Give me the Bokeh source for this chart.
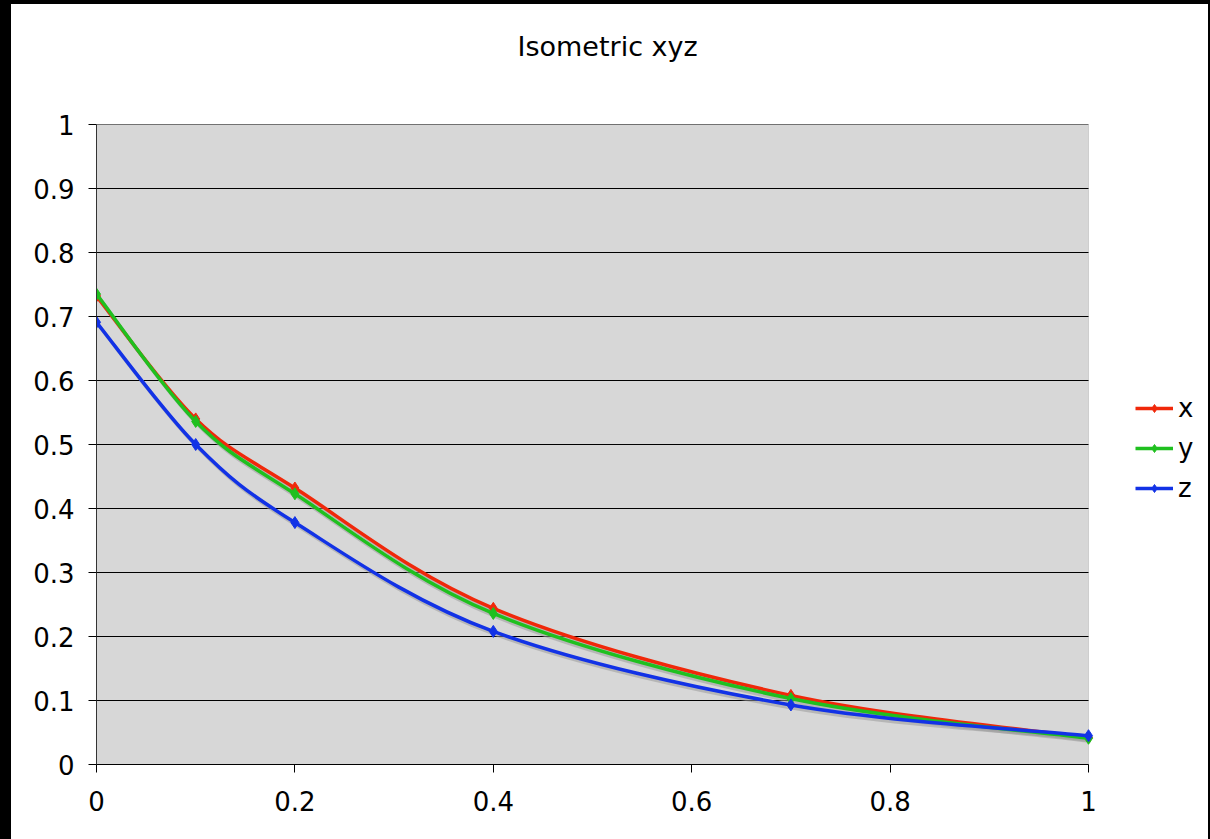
import numpy as np
from bokeh.plotting import figure
from bokeh.layouts import column
from bokeh.models import (FixedTicker, CustomJSTickFormatter, Legend, LegendItem,
                          Range1d, Title, ColumnDataSource, BoxAnnotation)
from bokeh.embed import file_html
from bokeh.resources import INLINE

# ---- data ----
t = [0, 0.1, 0.2, 0.4, 0.7, 1.0]
x_vals = [0.732, 0.540, 0.432, 0.244, 0.108, 0.042]
y_vals = [0.735, 0.536, 0.423, 0.236, 0.103, 0.041]
z_vals = [0.691, 0.500, 0.378, 0.208, 0.093, 0.045]
series_names = ["x", "y", "z"]
colors = ["#f0280a", "#1fc01f", "#1232e6"]
y_ticks = [0, 0.1, 0.2, 0.3, 0.4, 0.5, 0.6, 0.7, 0.8, 0.9, 1.0]
x_ticks = [0, 0.2, 0.4, 0.6, 0.8, 1.0]

FONT = "DejaVu Sans"

# plot area spans x 0..1 over 992 px; the frame continues to the right to hold the legend
PLOT_W = 992
FRAME_W = 1112
x_lo, x_hi = 0, 1
p = figure(width=1197, height=835, output_backend="svg", toolbar_location=None,
           x_range=Range1d(x_lo, x_hi * FRAME_W / PLOT_W), y_range=Range1d(0, 1),
           min_border_left=85, min_border_right=0, min_border_top=120, min_border_bottom=75,
           background_fill_color="white", border_fill_color="white",
           outline_line_color=None, styles={"background-color": "white"})
p.title = None

p.add_layout(Title(text=" ", text_font_size="40px", text_font=FONT), "above")
p.add_layout(Title(text="Isometric xyz", align="left", offset=421,
                   text_font=FONT, text_font_size="27px", text_font_style="normal",
                   text_color="black"), "above")

# grey plot area
p.add_layout(BoxAnnotation(left=x_lo, right=x_hi, bottom=0, top=1, level="underlay",
                           fill_color="#d7d7d7", fill_alpha=1,
                           line_color="#8a8a8a", line_width=1))

p.xgrid.visible = False
p.ygrid.visible = False
p.segment(x0=[x_lo] * len(y_ticks), x1=[x_hi] * len(y_ticks), y0=y_ticks, y1=y_ticks,
          line_color="black", line_width=1)

fmt = CustomJSTickFormatter(code="return String(Math.round(tick*10)/10);")
for ax, ticks in ((p.yaxis[0], y_ticks), (p.xaxis[0], x_ticks)):
    ax.ticker = FixedTicker(ticks=ticks)
    ax.formatter = fmt
    ax.minor_tick_line_color = None
    ax.major_tick_in = 0
    ax.major_tick_out = 8
    ax.major_tick_line_color = "black"
    ax.axis_line_color = "#333333"
    ax.major_label_text_font = FONT
    ax.major_label_text_font_size = "26px"
    ax.major_label_text_color = "black"
p.yaxis[0].major_label_standoff = 14
p.xaxis[0].major_label_standoff = 18
p.xaxis[0].axis_line_color = "black"
p.xaxis[0].bounds = (x_lo, x_hi)


def bezier_ctrl(xs, ys):
    xs = np.asarray(xs, float)
    ys = np.asarray(ys, float)
    n = len(xs)
    xp = np.concatenate([[xs[0]], xs, [xs[-1]]])
    yp = np.concatenate([[ys[0]], ys, [ys[-1]]])
    i = np.arange(n - 1) + 1
    cx0 = xp[i] + (xp[i + 1] - xp[i - 1]) / 6
    cy0 = yp[i] + (yp[i + 1] - yp[i - 1]) / 6
    cx1 = xp[i + 1] - (xp[i + 2] - xp[i]) / 6
    cy1 = yp[i + 1] - (yp[i + 2] - yp[i]) / 6
    return dict(x0=xs[:-1], y0=ys[:-1], x1=xs[1:], y1=ys[1:],
                cx0=cx0, cy0=cy0, cx1=cx1, cy1=cy1)


dx = 2 / PLOT_W
dy = -3 / 640

all_series = [x_vals, y_vals, z_vals]
for vals in all_series:
    d = bezier_ctrl(t, vals)
    sd = {k: (v + dx if k.startswith(("x", "cx")) else v + dy) for k, v in d.items()}
    p.bezier(source=ColumnDataSource(sd), x0="x0", y0="y0", x1="x1", y1="y1",
             cx0="cx0", cy0="cy0", cx1="cx1", cy1="cy1",
             line_color="#9a9a9a", line_alpha=0.55, line_width=3.5)

items = []
for name, vals, col in zip(series_names, all_series, colors):
    d = bezier_ctrl(t, vals)
    p.bezier(source=ColumnDataSource(d), x0="x0", y0="y0", x1="x1", y1="y1",
             cx0="cx0", cy0="cy0", cx1="cx1", cy1="cy1",
             line_color=col, line_width=3.5)
    sr = p.scatter(t, vals, marker="diamond", size=12, fill_color=col, line_color=col)
    # single-point line draws nothing; it gives the legend its line swatch
    lr = p.line(t[:1], vals[:1], line_color=col, line_width=3.5)
    items.append(LegendItem(label=name, renderers=[lr, sr]))

legend = Legend(items=items, location=(1039, 261), orientation="vertical",
                glyph_width=38, glyph_height=20, label_standoff=5,
                label_text_font=FONT, label_text_font_size="26px", label_text_color="black",
                label_height=20, spacing=10, padding=0, margin=0,
                border_line_alpha=0, background_fill_alpha=0)
p.add_layout(legend, "center")

p.margin = (4, 2, 0, 11)
layout = column(p, styles={"background-color": "black"}, width=1210, height=839)

open("out.html", "w").write(file_html(layout, INLINE))
